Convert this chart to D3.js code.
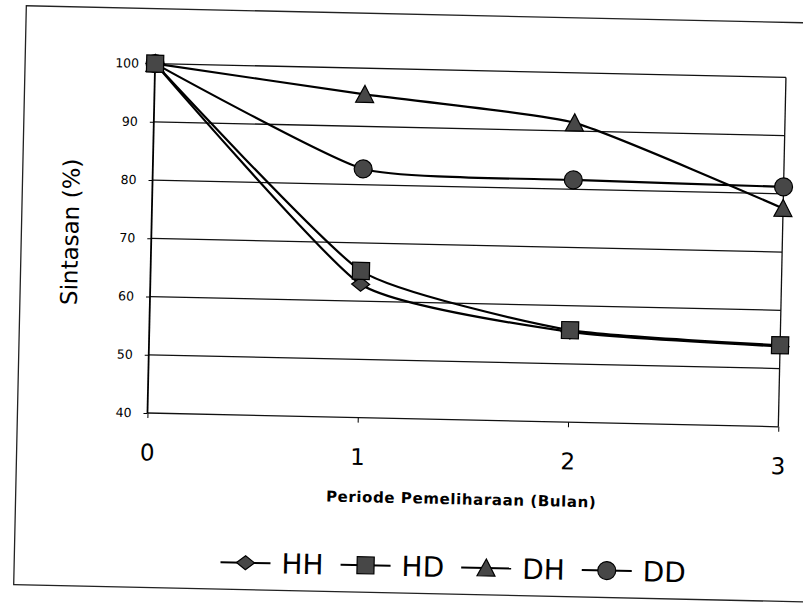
<!DOCTYPE html>
<html>
<head>
<meta charset="utf-8">
<script src="https://cdn.jsdelivr.net/npm/d3@7"></script>
<style>
  body { margin: 0; background: #fff; }
  svg text { font-family: "DejaVu Sans", sans-serif; fill: #000; }
</style>
</head>
<body>
<div id="chart"></div>
<script>
// months of rearing
const months = [0, 1, 2, 3]
const yTicks = [40, 50, 60, 70, 80, 90, 100]
const seriesNames = ["HH", "HD", "DH", "DD"]
// survival (%)
const HH = [100, 62.9, 55.5, 53.8]
const HD = [100, 65.2, 55.8, 54.0]
const DH = [100, 95.5, 91.4, 77.5]
const DD = [100, 82.7, 81.6, 81.2]

const seriesData = { HH: HH, HD: HD, DH: DH, DD: DD }

const W = 803, H = 603
const svg = d3.select("#chart").append("svg")
    .attr("width", W).attr("height", H)

// the scan is tilted a little, so rotate everything
const g = svg.append("g").attr("transform", "rotate(1.25, 400, 300)")

// outer frame of the figure
g.append("rect")
    .attr("x", 20).attr("y", 14)
    .attr("width", 800).attr("height", 579)
    .attr("fill", "none").attr("stroke", "#222").attr("stroke-width", 1.3)

const plot = { left: 150, right: 781, top: 69, bottom: 418.5 }

const x = d3.scaleLinear().domain([0, 3]).range([plot.left, plot.right])
const y = d3.scaleLinear().domain([40, 100]).range([plot.bottom, plot.top])

// gridlines (the 100 line is also the top of the plot)
g.append("g").selectAll("line")
    .data(yTicks)
    .join("line")
    .attr("x1", plot.left).attr("x2", plot.right)
    .attr("y1", d => y(d)).attr("y2", d => y(d))
    .attr("stroke", "#111").attr("stroke-width", 1.3)

// left axis + right border
g.append("line")
    .attr("x1", plot.left).attr("x2", plot.left)
    .attr("y1", plot.top).attr("y2", plot.bottom)
    .attr("stroke", "#000").attr("stroke-width", 1.8)
g.append("line")
    .attr("x1", plot.right).attr("x2", plot.right)
    .attr("y1", plot.top).attr("y2", plot.bottom)
    .attr("stroke", "#111").attr("stroke-width", 1.3)

// y axis labels
const yAxis = d3.axisLeft(y).tickValues(yTicks).tickSize(4).tickPadding(12)
g.append("g")
    .attr("transform", `translate(${plot.left},0)`)
    .call(yAxis)
    .call(a => a.select(".domain").remove())
    .call(a => a.selectAll(".tick line").attr("stroke", "#000"))
    .selectAll("text")
    .style("font-family", "DejaVu Sans")
    .style("font-size", "12.5px")
    .attr("fill", "#000")

// x axis labels
const xAxis = d3.axisBottom(x).tickValues(months).tickFormat(d3.format("d")).tickSize(5).tickPadding(26)
g.append("g")
    .attr("transform", `translate(0,${plot.bottom})`)
    .call(xAxis)
    .call(a => a.select(".domain").remove())
    .call(a => a.selectAll(".tick line").attr("stroke", "#000"))
    .selectAll("text")
    .style("font-family", "DejaVu Sans")
    .style("font-size", "23px")
    .attr("fill", "#000")

// axis titles
g.append("text")
    .attr("x", (plot.left + plot.right) / 2)
    .attr("y", 503)
    .attr("text-anchor", "middle")
    .style("font-size", "15px")
    .style("font-weight", "bold")
    .style("letter-spacing", "0.6px")
    .text("Periode Pemeliharaan (Bulan)")

g.append("text")
    .attr("transform", "translate(77,239) rotate(-90)")
    .attr("text-anchor", "middle")
    .style("font-size", "23px")
    .text("Sintasan (%)")

// marker shapes
function marker(sel, name) {
    if (name == "HH") {
        sel.append("path").attr("d", "M-9,0L0,-7L9,0L0,7Z")
    } else if (name == "HD") {
        sel.append("rect").attr("x", -8.5).attr("y", -8.5).attr("width", 17).attr("height", 17)
    } else if (name == "DH") {
        sel.append("path").attr("d", "M0,-9L9,8L-9,8Z")
    } else {
        sel.append("circle").attr("r", 9)
    }
    sel.selectAll("*")
        .attr("fill", "#474747")
        .attr("stroke", "#000")
        .attr("stroke-width", 1.2)
}

// smoothed lines, tighter than plain catmull-rom like the excel ones
const line = d3.line()
    .x((d, i) => x(months[i]))
    .y(d => y(d))
    .curve(d3.curveCardinal.tension(0.5))

seriesNames.forEach(function(name) {
    g.append("path")
        .datum(seriesData[name])
        .attr("d", line)
        .attr("fill", "none")
        .attr("stroke", "#000")
        .attr("stroke-width", 2.2)
})

// markers on top, HD square covers HH diamond like in the scan
;["DH", "DD", "HH", "HD"].forEach(function(name) {
    seriesData[name].forEach(function(v, i) {
        const m = g.append("g").attr("transform", `translate(${x(months[i])},${y(v)})`)
        marker(m, name)
    })
})

// legend
const legend = g.append("g")
const legendY = 566
var cursor = 0
const items = []
seriesNames.forEach(function(name, i) {
    const it = legend.append("g")
    it.append("line")
        .attr("x1", 0).attr("x2", 50)
        .attr("y1", 0).attr("y2", 0)
        .attr("stroke", "#000").attr("stroke-width", 2)
    marker(it.append("g").attr("transform", "translate(25,0)"), name)
    const t = it.append("text")
        .attr("x", 61).attr("y", 10)
        .style("font-size", "28px")
        .text(name)
    const w = 61 + t.node().getComputedTextLength()
    items.push({ el: it, x: cursor })
    cursor += w + 17
})
const legendW = cursor - 17
const legendX = 459 - legendW / 2
items.forEach(function(d) {
    d.el.attr("transform", `translate(${legendX + d.x},${legendY})`)
})
</script>
</body>
</html>
